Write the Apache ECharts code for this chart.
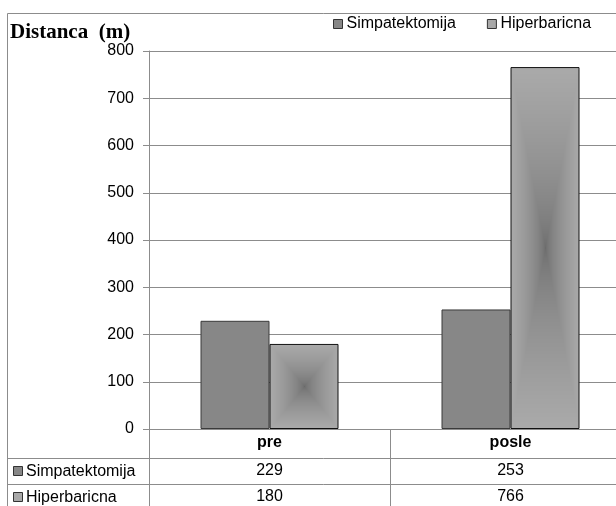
<!DOCTYPE html>
<html>
<head>
<meta charset="utf-8">
<script src="https://cdn.jsdelivr.net/npm/echarts@6/dist/echarts.min.js"></script>
<style>
  html, body { margin: 0; padding: 0; overflow: hidden; background: #fff; width: 616px; height: 506px; }
  #chart { position: absolute; left: 0; top: 0; width: 640px; height: 506px; }
</style>
</head>
<body>
<div id="chart"></div>
<script>
// ---- data ----
const categories = ['pre', 'posle'];
const seriesNames = ['Simpatektomija', 'Hiperbaricna'];
const simpatektomija = [229, 253];
const hiperbaricna = [180, 766];
const yMin = 0, yMax = 800, yStep = 100;
const axisTitle = 'Distanca  (m)';

// ---- styling ----
const FONT = '"Liberation Sans", Arial, sans-serif';
const FS = 16;
const LINE = '#8c8c8c';
const SIMP_FILL = '#878787';
const HIPER_FILL = '#a8a8a8';
const tableRows = [simpatektomija, hiperbaricna];

const chart = echarts.init(document.getElementById('chart'), null, { renderer: 'canvas' });

// one category axis per table row, used only for the value labels
const tableAxes = tableRows.map((row, r) => ({
  type: 'category',
  data: categories,
  position: 'bottom',
  offset: 29 + r * 26,
  axisLine: { show: false },
  axisTick: { show: false },
  axisLabel: {
    margin: 5,
    fontFamily: FONT, fontSize: FS, color: '#000',
    formatter: (v, i) => String(row[i])
  }
}));

const rowLabels = [];
seriesNames.forEach((name, r) => {
  const cy = 471 + r * 26;
  rowLabels.push({
    type: 'rect', shape: { x: 13.5, y: cy - 4.5, width: 9, height: 9 },
    style: { fill: r === 0 ? SIMP_FILL : HIPER_FILL, stroke: '#333', lineWidth: 1 }
  });
  rowLabels.push({
    type: 'text', x: 26, y: cy + 1,
    style: { text: name, font: FS + 'px ' + FONT, fill: '#000', textVerticalAlign: 'middle' }
  });
});

const option = {
  animation: false,
  backgroundColor: '#fff',
  title: {
    text: axisTitle, left: 10, top: 22, padding: 0,
    textStyle: { fontFamily: '"Liberation Serif", "Times New Roman", serif', fontSize: 21, fontWeight: 'bold', color: '#000' }
  },
  legend: {
    left: 333, top: 16, padding: 0,
    itemWidth: 9, itemHeight: 9, itemGap: 31,
    selectedMode: false,
    icon: 'rect',
    textStyle: { fontFamily: FONT, fontSize: FS, color: '#000', padding: [0, 0, 0, -1] },
    data: [
      { name: seriesNames[0], itemStyle: { color: SIMP_FILL, borderColor: '#333', borderWidth: 1 } },
      { name: seriesNames[1], itemStyle: { color: HIPER_FILL, borderColor: '#333', borderWidth: 1 } }
    ]
  },
  grid: { left: 149, top: 51, right: 9, bottom: 77, containLabel: false },
  xAxis: [{
    type: 'category',
    data: categories,
    boundaryGap: true,
    axisLine: { show: true, lineStyle: { color: LINE, width: 1 } },
    axisTick: { show: true, length: 77, alignWithLabel: false, lineStyle: { color: LINE, width: 1 } },
    axisLabel: { margin: 6, fontFamily: FONT, fontSize: FS, fontWeight: 'bold', color: '#000' },
    splitLine: { show: false }
  }].concat(tableAxes),
  yAxis: {
    type: 'value',
    min: yMin, max: yMax, interval: yStep,
    axisLine: { show: true, lineStyle: { color: LINE, width: 1 } },
    axisTick: { show: true, length: 6, lineStyle: { color: LINE, width: 1 } },
    axisLabel: { margin: 15, fontFamily: FONT, fontSize: FS, color: '#000' },
    splitLine: { show: true, lineStyle: { color: LINE, width: 1 } }
  },
  graphic: [
    { type: 'line', shape: { x1: 7.5, y1: 13.5, x2: 640, y2: 13.5 }, style: { stroke: LINE, lineWidth: 1 } },
    { type: 'line', shape: { x1: 7.5, y1: 13.5, x2: 7.5, y2: 506 }, style: { stroke: LINE, lineWidth: 1 } },
    { type: 'line', shape: { x1: 7.5, y1: 458.5, x2: 640, y2: 458.5 }, style: { stroke: LINE, lineWidth: 1 } },
    { type: 'line', shape: { x1: 7.5, y1: 484.5, x2: 640, y2: 484.5 }, style: { stroke: LINE, lineWidth: 1 } }
  ].concat(rowLabels),
  series: [
    {
      name: seriesNames[0], type: 'bar', data: simpatektomija,
      barWidth: 69, barGap: '0%',
      itemStyle: { color: SIMP_FILL, borderColor: '#3a3a3a', borderWidth: 1 }
    },
    {
      name: seriesNames[1], type: 'bar', data: hiperbaricna,
      barWidth: 69, barGap: '0%',
      itemStyle: { color: HIPER_FILL, borderColor: '#111', borderWidth: 1 }
    }
  ]
};

chart.setOption(option);

// "from centre" shading: dark core fading out towards the bar's edges
function centreShade(rect, W, H, edge, core, gamma) {
  const c = document.createElement('canvas');
  c.width = W; c.height = H;
  const ctx = c.getContext('2d');
  const x0 = Math.round(Math.min(rect.x, rect.x + rect.width));
  const y0 = Math.round(Math.min(rect.y, rect.y + rect.height));
  const w = Math.max(1, Math.round(Math.abs(rect.width)));
  const h = Math.max(1, Math.round(Math.abs(rect.height)));
  const img = ctx.createImageData(w, h);
  for (let j = 0; j < h; j++) {
    const dy = Math.abs(j + 0.5 - h / 2) / (h / 2);
    for (let i = 0; i < w; i++) {
      const dx = Math.abs(i + 0.5 - w / 2) / (w / 2);
      const t = Math.pow(Math.max(dx, dy), gamma);
      const v = Math.round(core + (edge - core) * t);
      const k = (j * w + i) * 4;
      img.data[k] = v; img.data[k + 1] = v; img.data[k + 2] = v; img.data[k + 3] = 255;
    }
  }
  ctx.putImageData(img, x0, y0);
  return c;
}

const W = chart.getWidth(), H = chart.getHeight();
const hiperData = chart.getModel().getSeriesByIndex(1).getData();
const shadedItems = hiperbaricna.map((v, i) => {
  const rect = hiperData.getItemLayout(i);
  return {
    value: v,
    itemStyle: { color: { image: centreShade(rect, W, H, 170, 106, 0.6), repeat: 'no-repeat' } }
  };
});
chart.setOption({ series: [{}, { data: shadedItems }] });
</script>
</body>
</html>
